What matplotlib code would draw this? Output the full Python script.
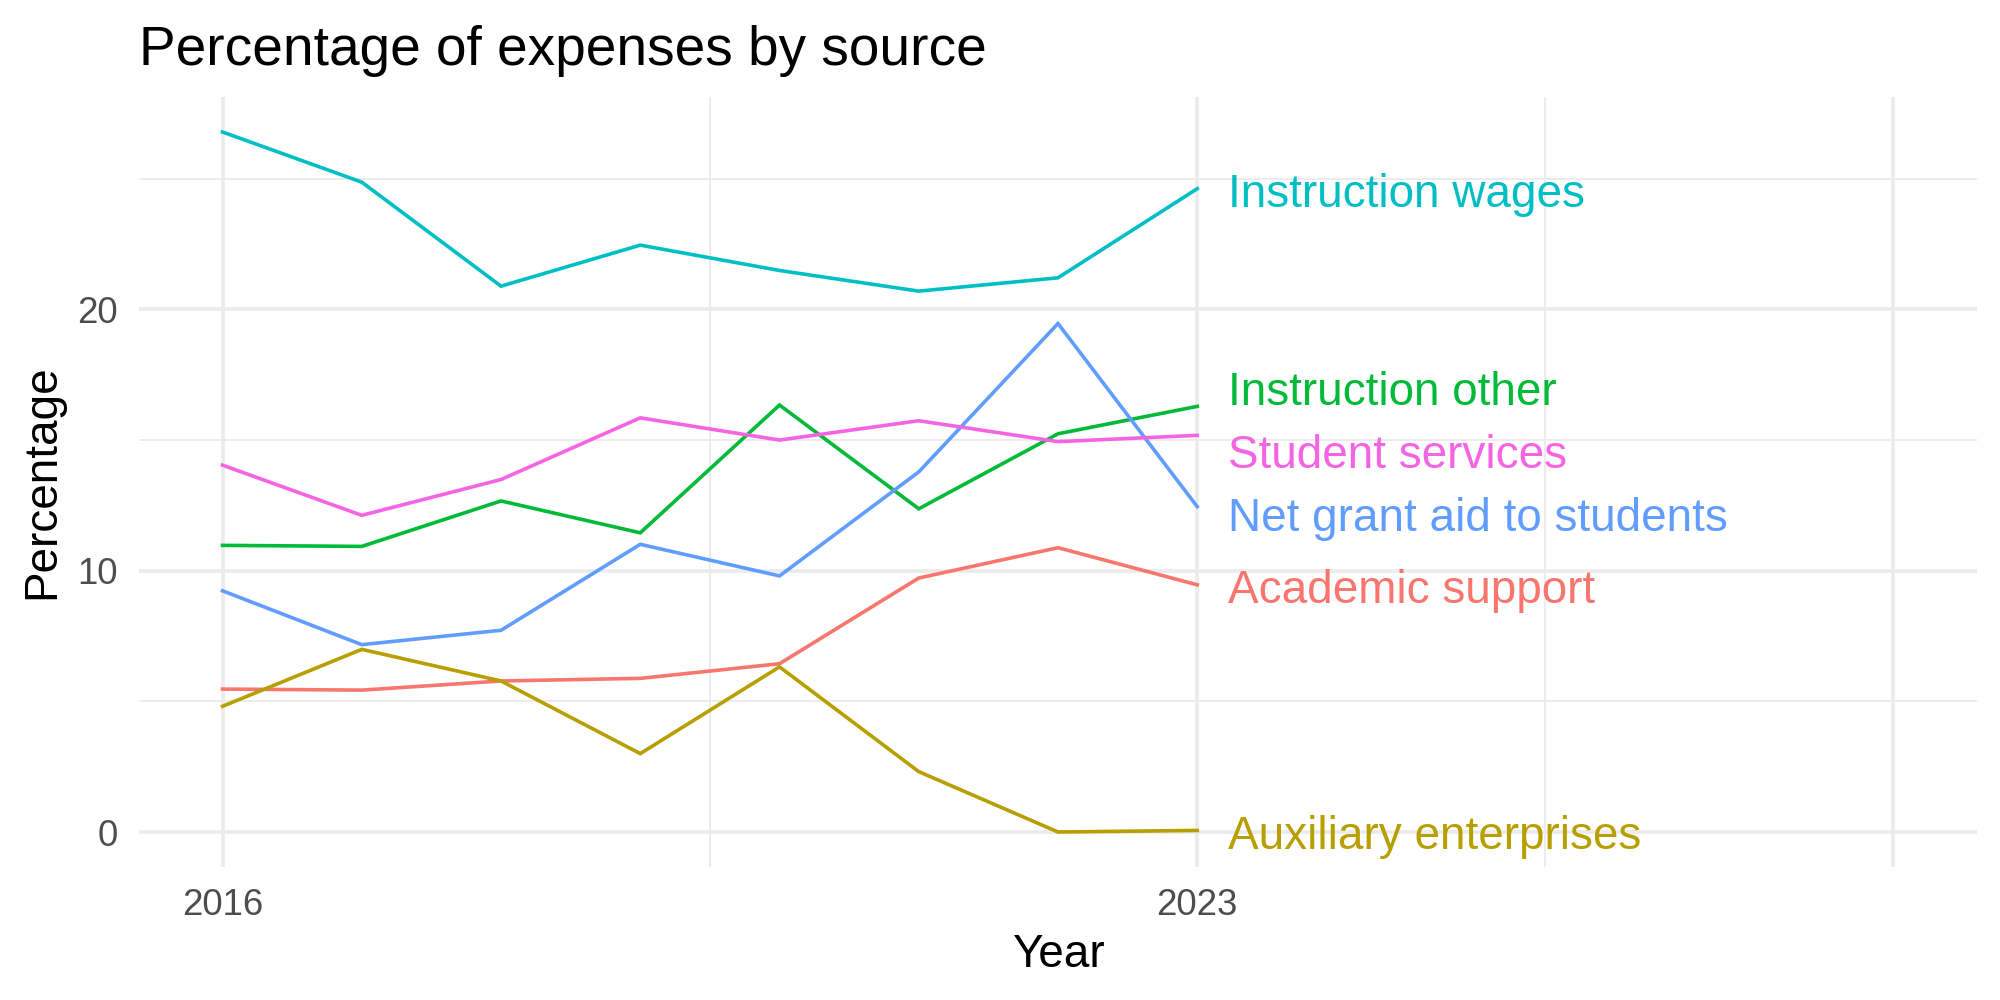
import numpy as np
import matplotlib.pyplot as plt

plt.rcParams["font.family"] = ["Liberation Sans", "DejaVu Sans"]

years = [2016, 2017, 2018, 2019, 2020, 2021, 2022, 2023]

academic_support = [5.47, 5.43, 5.78, 5.88, 6.44, 9.72, 10.88, 9.46]
auxiliary_enterprises = [4.81, 6.99, 5.78, 3.00, 6.32, 2.31, 0.00, 0.06]
instruction_other = [10.97, 10.93, 12.67, 11.45, 16.34, 12.37, 15.24, 16.29]
instruction_wages = [26.79, 24.87, 20.89, 22.46, 21.49, 20.70, 21.21, 24.62]
net_grant_aid = [9.23, 7.17, 7.72, 11.01, 9.80, 13.78, 19.46, 12.45]
student_services = [14.04, 12.12, 13.49, 15.85, 15.00, 15.74, 14.94, 15.18]

series_names = [
    "Academic support",
    "Auxiliary enterprises",
    "Instruction other",
    "Instruction wages",
    "Net grant aid to students",
    "Student services",
]
series_values = [
    academic_support,
    auxiliary_enterprises,
    instruction_other,
    instruction_wages,
    net_grant_aid,
    student_services,
]
# default ggplot hue palette for 6 groups
colors = ["#F8766D", "#B79F00", "#00BA38", "#00BFC4", "#619CFF", "#F564E3"]

x_breaks = [2016, 2023, 2028]
x_labels = ["2016", "2023", ""]


def spread_labels(values, gap):
    # crude stand-in for ggrepel: push end labels apart vertically
    order = np.argsort(values)
    pos = np.array(values, dtype=float)[order]
    for _ in range(200):
        moved = False
        for i in range(1, len(pos)):
            d = pos[i] - pos[i - 1]
            if d < gap:
                shift = (gap - d) / 2
                pos[i] += shift
                pos[i - 1] -= shift
                moved = True
        if not moved:
            break
    out = np.empty_like(pos)
    out[order] = pos
    return out


def main():
    fig = plt.figure(figsize=(20, 10), dpi=100)
    ax = fig.add_axes([0.0695, 0.133, 0.919, 0.770])

    for name, vals, col in zip(series_names, series_values, colors):
        ax.plot(years, vals, color=col, lw=2.6, solid_joinstyle="miter", zorder=3)

    last_vals = [v[-1] for v in series_values]
    label_y = spread_labels(last_vals, 2.4)
    for name, y, col in zip(series_names, label_y, colors):
        ax.text(years[-1] + 0.22, y - 0.25, name, color=col, fontsize=33,
                ha="left", va="center", zorder=4)

    ax.set_xlim(2015.4, 2028.6)
    all_vals = np.concatenate(series_values)
    lo, hi = all_vals.min(), all_vals.max()
    pad = 0.05 * (hi - lo)
    ax.set_ylim(lo - pad, hi + pad)

    ax.set_xticks(x_breaks)
    ax.set_xticklabels(x_labels)
    ax.set_xticks([2019.5, 2025.5], minor=True)
    ax.set_yticks([0, 10, 20])
    ax.set_yticks([5, 15, 25], minor=True)

    ax.grid(which="major", color="#EBEBEB", lw=2.6, zorder=0)
    ax.grid(which="minor", color="#EBEBEB", lw=1.3, zorder=0)
    ax.set_axisbelow(True)
    for s in ax.spines.values():
        s.set_visible(False)
    ax.tick_params(which="both", length=0, labelsize=26.4, labelcolor="#4D4D4D")
    ax.tick_params(axis="x", pad=15)
    ax.tick_params(axis="y", pad=15)

    fig.text(0.0695, 0.935, "Percentage of expenses by source", fontsize=39.6,
             ha="left", va="baseline")
    fig.text(0.529, 0.033, "Year", fontsize=33, ha="center", va="baseline")
    fig.text(0.021, 0.518, "Percentage", fontsize=33, ha="center", va="center",
             rotation=90)

    fig.savefig("out.png", dpi=100)


if __name__ == "__main__":
    main()
